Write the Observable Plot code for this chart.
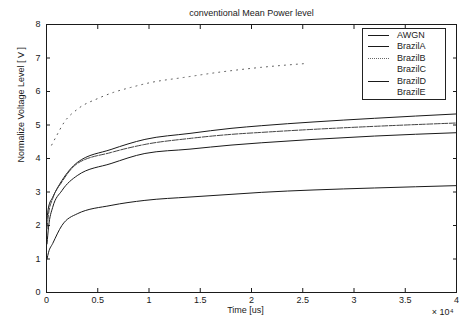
<!DOCTYPE html>
<html>
<head>
<meta charset="utf-8">
<script src="https://cdn.jsdelivr.net/npm/d3@7"></script>
<script src="https://cdn.jsdelivr.net/npm/@observablehq/plot@0.6"></script>
<style>
  body { margin: 0; background: #fff; }
  #wrap { position: relative; width: 459px; height: 323px; font-family: "Liberation Sans", Arial, sans-serif; }
  #legend { position: absolute; left: 362px; top: 28px; width: 84px; height: 72px; border: 1px solid #222; background: #fff; box-sizing: border-box; }
  .row { position: absolute; left: 0; height: 11px; width: 100%; }
  .sw { position: absolute; left: 5px; width: 21px; top: 5px; height: 0; }
  .lb { position: absolute; left: 34px; top: 0; font-size: 9px; line-height: 11px; color: #222; }
</style>
</head>
<body>
<div id="wrap"></div>
<script>
// Data (time in microseconds)
const time = [50, 200, 600, 1500, 3000, 6300, 9600, 14000, 18000, 21000, 26000, 32000, 40000];
const awgn = [1.0, 1.2, 1.46, 2.0, 2.35, 2.6, 2.75, 2.85, 2.93, 2.99, 3.06, 3.12, 3.19];
const brazilA = [2.2, 2.55, 2.84, 3.34, 3.88, 4.27, 4.57, 4.75, 4.9, 4.98, 5.09, 5.2, 5.33];
const brazilC = [1.9, 2.35, 2.8, 3.3, 3.85, 4.18, 4.42, 4.6, 4.72, 4.78, 4.87, 4.96, 5.06];
const brazilD = [1.45, 1.95, 2.54, 3.04, 3.49, 3.85, 4.15, 4.28, 4.4, 4.47, 4.57, 4.67, 4.77];
const timeB = [500, 900, 1700, 3100, 5000, 6500, 8200, 10200, 13400, 16700, 20900, 25500];
const brazilB = [4.4, 4.63, 5.07, 5.49, 5.79, 5.97, 6.12, 6.27, 6.42, 6.57, 6.72, 6.84];

const legendNames = ["AWGN", "BrazilA", "BrazilB", "BrazilC", "BrazilD", "BrazilE"];
const legendDash = ["solid", "solid", "dotted", "none", "solid", "none"];

const xTicks = [0, 5000, 10000, 15000, 20000, 25000, 30000, 35000, 40000];
const yTicks = [0, 1, 2, 3, 4, 5, 6, 7, 8];

const toRows = (xs, ys) => xs.map((t, i) => ({t, v: ys[i]}));
const blank = () => "";

const ink = "#1a1a1a";
const chart = Plot.plot({
  width: 459,
  height: 323,
  marginLeft: 46,
  marginRight: 3,
  marginTop: 24,
  marginBottom: 31,
  style: {fontFamily: "Liberation Sans, Arial, sans-serif", fontSize: "9px", color: ink, background: "#fff"},
  x: {domain: [0, 40000]},
  y: {domain: [0, 8]},
  marks: [
    Plot.frame({stroke: ink, strokeWidth: 1}),
    // inward ticks
    Plot.axisX({ticks: xTicks, anchor: "bottom", tickSize: -4, tickFormat: blank, label: null}),
    Plot.axisX({ticks: xTicks, anchor: "top", tickSize: -4, tickFormat: blank, label: null}),
    Plot.axisY({ticks: yTicks, anchor: "left", tickSize: -4, tickFormat: blank, label: null}),
    Plot.axisY({ticks: yTicks, anchor: "right", tickSize: -4, tickFormat: blank, label: null}),
    // tick labels
    Plot.axisX({ticks: xTicks, anchor: "bottom", tickSize: 0, tickPadding: 4, tickFormat: d => String(d / 1e4), label: null, fontSize: 9}),
    Plot.axisY({ticks: yTicks, anchor: "left", tickSize: 0, tickPadding: 6, tickFormat: d => String(d), label: null, fontSize: 9}),
    // curves
    Plot.line(toRows(time, awgn), {x: "t", y: "v", stroke: ink, strokeWidth: 1, curve: "monotone-x"}),
    Plot.line(toRows(time, brazilA), {x: "t", y: "v", stroke: ink, strokeWidth: 1, curve: "monotone-x"}),
    Plot.line(toRows(time, brazilC), {x: "t", y: "v", stroke: "#444", strokeWidth: 1, strokeDasharray: "6,1.5", curve: "monotone-x"}),
    Plot.line(toRows(time, brazilD), {x: "t", y: "v", stroke: ink, strokeWidth: 1, curve: "monotone-x"}),
    Plot.line(toRows(timeB, brazilB), {x: "t", y: "v", stroke: "#555", strokeWidth: 1, strokeDasharray: "1,5", curve: "monotone-x"}),
    // title and labels
    Plot.text(["conventional Mean Power level"], {frameAnchor: "top", dy: -15, fontSize: 9, fill: ink}),
    Plot.text(["Time [us]"], {frameAnchor: "bottom", dy: 20, dx: -6, fontSize: 9, fill: ink}),
    Plot.text(["× 10⁴"], {frameAnchor: "bottom-right", dy: 22, dx: -3, textAnchor: "end", fontSize: 9, fill: ink}),
    Plot.text(["Normalize Voltage Level [ V ]"], {frameAnchor: "left", dx: -25, dy: 4, rotate: -90, fontSize: 9, fill: ink})
  ]
});

const wrap = document.getElementById("wrap");
wrap.appendChild(chart);

const legend = document.createElement("div");
legend.id = "legend";
legendNames.forEach((name, i) => {
  const row = document.createElement("div");
  row.className = "row";
  row.style.top = (1 + i * 11.4) + "px";
  const sw = document.createElement("div");
  sw.className = "sw";
  if (legendDash[i] !== "none") sw.style.borderTop = "1px " + legendDash[i] + " " + (legendDash[i] === "dotted" ? "#666" : ink);
  const lb = document.createElement("div");
  lb.className = "lb";
  lb.textContent = name;
  row.appendChild(sw);
  row.appendChild(lb);
  legend.appendChild(row);
});
wrap.appendChild(legend);
</script>
</body>
</html>
